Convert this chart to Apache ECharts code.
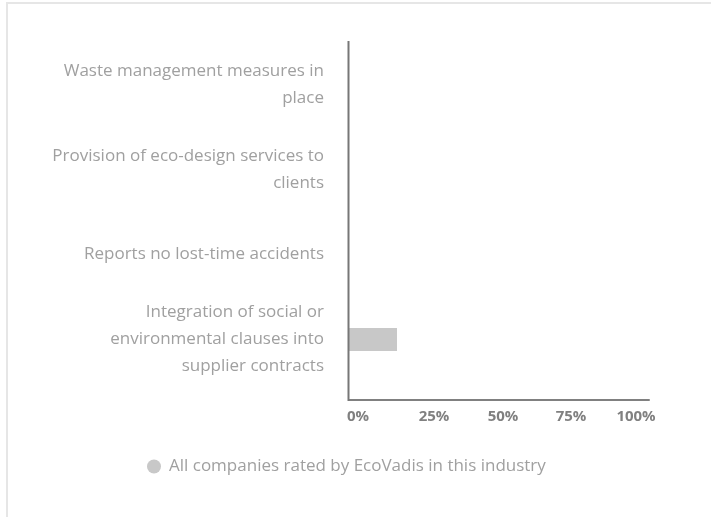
<!DOCTYPE html>
<html>
<head>
<meta charset="utf-8">
<script src="https://cdn.jsdelivr.net/npm/echarts@6/dist/echarts.min.js"></script>
<style>
  html, body { margin: 0; padding: 0; background: #fff; }
  #frame { position: absolute; left: 6px; top: 2px; width: 705px; height: 515px;
           border-top: 2px solid #e6e6e6; border-left: 2px solid #e6e6e6; box-sizing: border-box; }
  #chart { position: absolute; left: 0; top: 0; width: 711px; height: 517px; }
</style>
</head>
<body>
<div id="frame"></div>
<div id="chart"></div>
<script>
// categories, top to bottom
var categories = [
    'Waste management measures in place',
    'Provision of eco-design services to clients',
    'Reports no lost-time accidents',
    'Integration of social or environmental clauses into supplier contracts'
];
var seriesName = 'All companies rated by EcoVadis in this industry';
var industryValues = [0, 0, 0, 16];
var tickLabels = ['0%', '25%', '50%', '75%', '100%'];

var dom = document.getElementById('chart');
var myChart = echarts.init(dom);

var font = '"Open Sans", "Noto Sans", sans-serif';

// word wrap without trailing spaces
var ctx = document.createElement('canvas').getContext('2d');
ctx.font = '17px ' + font;
function wrap(text, maxWidth) {
    var words = text.split(' ');
    var lines = [];
    var line = '';
    words.forEach(function (w) {
        var test = line ? line + ' ' + w : w;
        if (line && ctx.measureText(test).width > maxWidth) {
            lines.push(line);
            line = w;
        } else {
            line = test;
        }
    });
    lines.push(line);
    return lines.join('\n');
}

var option = {
    animation: false,
    grid: {
        left: 349,
        right: 62,
        top: 42,
        bottom: 135
    },
    legend: {
        left: 147,
        top: 458,
        padding: 0,
        icon: 'circle',
        itemWidth: 14,
        itemHeight: 14,
        itemGap: 10,
        textStyle: {
            color: '#a0a0a0',
            fontSize: 17,
            fontFamily: font,
            padding: [0, 0, 0, 3]
        },
        data: [seriesName]
    },
    xAxis: {
        type: 'value',
        min: 0,
        max: 100,
        interval: 25,
        offset: 18,
        axisLine: {show: true, lineStyle: {color: '#808080', width: 2}},
        axisTick: {show: false},
        splitLine: {show: false},
        axisLabel: {
            margin: 9,
            formatter: function (v) {
                var i = Math.round(v / 25);
                return '{r' + i + '|' + tickLabels[i] + '}';
            },
            rich: {
                r0: {color: '#808080', fontWeight: 'bold', fontSize: 15, fontFamily: font, padding: [0, 0, 0, 18]},
                r1: {color: '#808080', fontWeight: 'bold', fontSize: 15, fontFamily: font, padding: [0, 0, 0, 20]},
                r2: {color: '#808080', fontWeight: 'bold', fontSize: 15, fontFamily: font, padding: [0, 0, 0, 8]},
                r3: {color: '#808080', fontWeight: 'bold', fontSize: 15, fontFamily: font, padding: [0, 6, 0, 0]},
                r4: {color: '#808080', fontWeight: 'bold', fontSize: 15, fontFamily: font, padding: [0, 26, 0, 0]}
            }
        }
    },
    yAxis: {
        type: 'category',
        inverse: true,
        data: categories,
        axisLine: {show: false},
        axisTick: {show: false},
        splitLine: {show: false},
        axisLabel: {
            margin: 25,
            color: '#a0a0a0',
            fontSize: 17,
            lineHeight: 27,
            fontFamily: font,
            align: 'right',
            formatter: function (v) {
                return wrap(v, 276);
            }
        }
    },
    graphic: [{
        type: 'line',
        shape: {x1: 348.5, y1: 41, x2: 348.5, y2: 401},
        style: {stroke: '#777777', lineWidth: 2},
        z: 10
    }],
    series: [{
        name: seriesName,
        type: 'bar',
        barWidth: 23,
        itemStyle: {color: '#c8c8c8'},
        data: industryValues
    }]
};

myChart.setOption(option, true);
</script>
</body>
</html>
